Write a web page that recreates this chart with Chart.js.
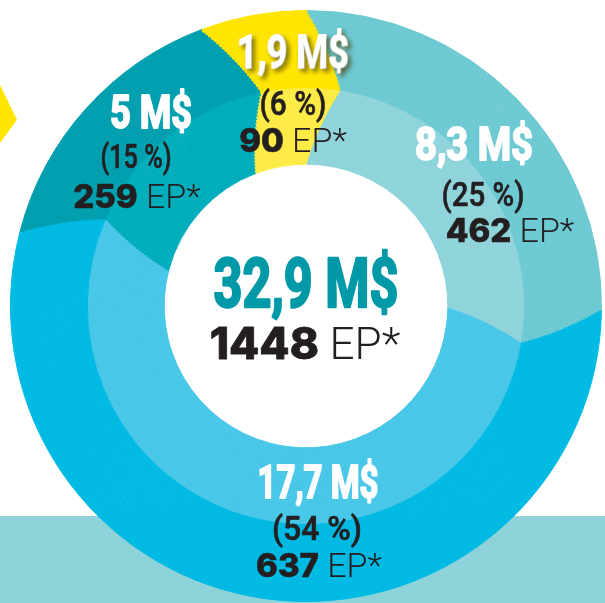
<!DOCTYPE html>
<html lang="fr">
<head>
  <meta charset="UTF-8" />
  <title>Répartition 32,9 M$</title>
  <script src="https://cdn.jsdelivr.net/npm/chart.js"></script>
  <style>
    html, body { margin: 0; padding: 0; background: #fff; }
    body { width: 605px; height: 603px; position: relative; overflow: hidden; }
    .band { position: absolute; left: 0; top: 516px; width: 605px; height: 87px; background: #8fd3da; }
    .arrow { position: absolute; left: 0; top: 85px; width: 17px; height: 58px; background: #ffe500;
             clip-path: polygon(0 0, 100% 60%, 0 100%); }
    .wrap { position: absolute; left: 10px; top: 10px; width: 592px; height: 592px; }
  </style>
</head>
<body>
  <div class="band"></div>
  <div class="arrow"></div>
  <div class="wrap"><canvas id="donut"></canvas></div>

  <script>
    // values, clockwise from 12 o'clock
    const amounts  = [8.3, 17.7, 5, 1.9];   // M$
    const shares   = [25, 54, 15, 6];       // %
    const projects = [462, 637, 259, 90];   // EP*

    const outerColors = ['#6ecad2', '#00bae3', '#009faf', '#ffe500'];
    const innerColors = ['#8fd4db', '#48c7e8', '#00adbb', '#ffeb45'];

    const INK = '#231f20';
    const TEAL = '#0099a8';

    // label placement relative to the donut centre: [dx, baseline dy, fit width]
    const labelLayout = [
      { amt: [168, -146, 118], pct: [177, -100, 83], ep: [204, -64] },
      { amt: [12, 192, 121],   pct: [11, 234, 90],   ep: [13, 271] },
      { amt: [-155, -178, 82], pct: [-170, -138, 71], ep: [-169, -98] },
      { amt: [-13, -238, 112], pct: [-13, -191, 67], ep: [-13, -154], shadow: true }
    ];

    const fmt = v => String(Math.round(v * 10) / 10).replace('.', ',');

    function drawLine(ctx, runs, x, y, fitWidth, shadow) {
      let w = 0;
      runs.forEach(r => { ctx.font = r.font; r.w = ctx.measureText(r.text).width; w += r.w; });
      const sx = fitWidth ? fitWidth / w : 1;
      let left = x - w * sx / 2;
      runs.forEach(r => {
        ctx.save();
        ctx.translate(left, y);
        ctx.scale(sx, 1);
        ctx.font = r.font;
        ctx.fillStyle = r.color;
        ctx.strokeStyle = r.color;
        ctx.lineJoin = 'round';
        if (shadow) {
          ctx.shadowColor = 'rgba(70,60,0,0.55)';
          ctx.shadowBlur = 4;
          ctx.shadowOffsetX = 3;
          ctx.shadowOffsetY = 3;
        }
        if (r.heavy) {
          ctx.lineWidth = r.heavy;
          ctx.strokeText(r.text, 0, 0);
        }
        ctx.fillText(r.text, 0, 0);
        ctx.restore();
        left += r.w * sx;
      });
    }

    const segmentLabels = {
      id: 'segmentLabels',
      afterDatasetsDraw(chart) {
        const arc = chart.getDatasetMeta(0).data[0];
        const cx = arc.x, cy = arc.y;
        const ctx = chart.ctx;
        ctx.save();
        ctx.textBaseline = 'alphabetic';
        amounts.forEach((v, i) => {
          const L = labelLayout[i];
          drawLine(ctx, [{ text: fmt(v) + ' M$', font: 'bold 46px Roboto', color: '#fff', heavy: 2 }],
            cx + L.amt[0], cy + L.amt[1], L.amt[2], L.shadow);
          drawLine(ctx, [{ text: '(' + shares[i] + ' %)', font: '500 33px Roboto', color: INK, heavy: 0.6 }],
            cx + L.pct[0], cy + L.pct[1], L.pct[2]);
          drawLine(ctx, [
            { text: String(projects[i]), font: '800 33px Inter', color: INK, heavy: 0.6 },
            { text: ' EP*', font: '300 34px Roboto', color: INK }
          ], cx + L.ep[0], cy + L.ep[1]);
        });

        // totals in the hole
        const total = amounts.reduce((a, b) => a + b, 0);
        const totalEp = projects.reduce((a, b) => a + b, 0);
        drawLine(ctx, [{ text: fmt(total) + ' M$', font: 'bold 69px Roboto', color: TEAL, heavy: 2.5 }], cx, cy + 1, 185);
        drawLine(ctx, [
          { text: String(totalEp), font: '800 44px Inter', color: INK, heavy: 0.8 },
          { text: ' EP*', font: '300 44px Roboto', color: INK }
        ], cx - 1, cy + 53);
        ctx.restore();
      }
    };

    // the segment borders bend outward in the middle of the ring,
    // so each band is split into thin rings with a slightly shifted start angle
    const SUB = 24, BEND = 9;
    const datasets = [];
    for (let k = 0; k < 2 * SUB; k++) {
      const outer = k < SUB;
      const t = outer ? (k + 0.5) / SUB : (2 * SUB - k - 0.5) / SUB;
      const colors = outer ? outerColors : innerColors;
      datasets.push({
        data: amounts,
        backgroundColor: colors,
        borderColor: colors,
        borderWidth: 1,
        rotation: BEND * t
      });
    }

    new Chart(document.getElementById('donut'), {
      type: 'doughnut',
      data: { labels: amounts.map(v => fmt(v) + ' M$'), datasets },
      options: {
        responsive: true,
        maintainAspectRatio: false,
        animation: false,
        events: [],
        cutout: '48%',
        layout: { padding: 0 },
        plugins: { legend: { display: false }, tooltip: { enabled: false } }
      },
      plugins: [segmentLabels]
    });
  </script>
</body>
</html>
